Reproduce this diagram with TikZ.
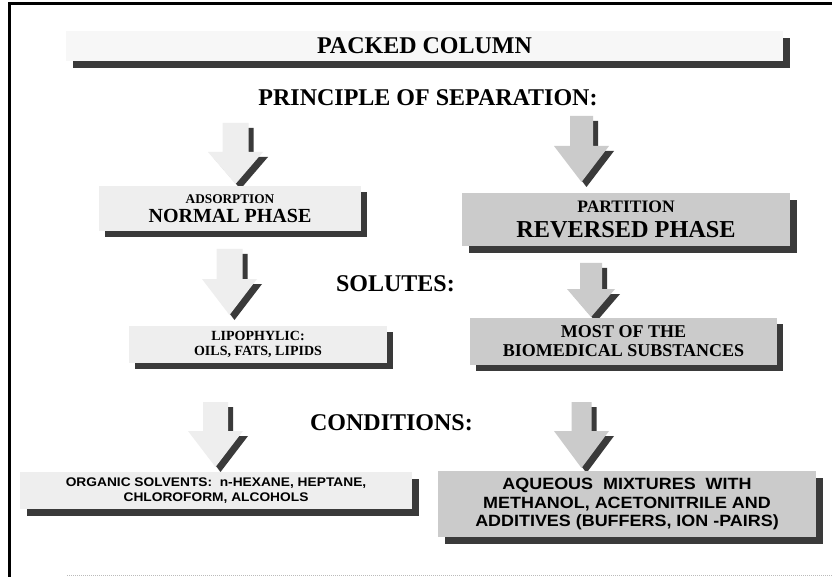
\documentclass[tikz,border=0pt]{standalone}
\usepackage{fontspec}
\setmainfont{Liberation Serif}
\newfontfamily\arialw[FakeStretch=1.1]{Liberation Sans}
\usetikzlibrary{shadows}
\newcommand\myfs[2]{\fontsize{#1}{#2}\selectfont}
\definecolor{lightbox}{HTML}{EEEEEE}
\definecolor{titlebox}{HTML}{F7F7F7}
\definecolor{greybox}{HTML}{CBCBCB}
\definecolor{shadowc}{HTML}{3A3A3A}
\definecolor{dotc}{HTML}{BBBBBB}
% block arrow: #1 cx, #2 top, #3 neck, #4 tip, #5 shaft half width, #6 head half width, #7 fill
\newcommand\blockarrow[7]{%
  \fill[shadowc, shift={(5,5)}] (#1-#5,#2) -- (#1+#5,#2) -- (#1+#5,#3) -- (#1+#6,#3) -- (#1,#4) -- (#1-#6,#3) -- (#1-#5,#3) -- cycle;
  \fill[#7] (#1-#5,#2) -- (#1+#5,#2) -- (#1+#5,#3) -- (#1+#6,#3) -- (#1,#4) -- (#1-#6,#3) -- (#1-#5,#3) -- cycle;
}
\begin{document}
\begin{tikzpicture}[x=1pt,y=-1pt,
  box/.style={rectangle, inner sep=0pt, align=center, font=\bfseries},
  shad/.style={drop shadow={shadow xshift=#1pt, shadow yshift=-#1pt, fill=shadowc, opacity=1}},
  heading/.style={anchor=base, inner sep=0pt, font=\bfseries\myfs{24}{24}}]
\useasboundingbox (0,0) rectangle (832,577);
\fill[white] (0,0) rectangle (832,577);
% frame
\draw[line width=3pt] (9.5,577) -- (9.5,3.7) -- (832,3.7);
\draw[dotc, line width=0.8pt, dash pattern=on 1pt off 1pt] (67,575.5) -- (832,575.5);

% title
\node[box, shad=7, fill=titlebox, minimum width=717pt, minimum height=30pt, font=\bfseries\myfs{24}{24}]
  (title) at (424.5,46) {PACKED COLUMN};
\node[heading] (principle) at (428,106) {PRINCIPLE OF SEPARATION:};
\node[heading] (solutes) at (395.4,291) {SOLUTES:};
\node[heading] (conditions) at (391.5,430) {CONDITIONS:};

% arrows
\blockarrow{235.5}{123}{152}{184}{13}{27.5}{lightbox}
\blockarrow{581.5}{116}{146}{182}{11.5}{27.5}{greybox}
\blockarrow{229.5}{249}{279}{315}{13}{27.5}{lightbox}
\blockarrow{591}{263}{289}{317}{11}{24}{greybox}
\blockarrow{215.5}{402}{431}{467}{12.5}{27.5}{lightbox}
\blockarrow{581.5}{402}{431}{468}{10}{27.5}{greybox}

% left column
\node[box, shad=6, fill=lightbox, minimum width=262pt, minimum height=45pt, font=\bfseries\myfs{13}{19}]
  (normal) at (230,208.5) {{\myfs{13.3}{13}ADSORPTION}\\{\myfs{20}{20}NORMAL PHASE}};
\node[box, shad=6, fill=lightbox, minimum width=258pt, minimum height=37pt, font=\bfseries\myfs{14}{14.6}]
  (lipo) at (258,344.5) {LIPOPHYLIC:\\OILS, FATS, LIPIDS};
\node[box, shad=7, fill=lightbox, minimum width=392pt, minimum height=37pt, font=\arialw\bfseries\myfs{12.5}{15.4}]
  (organic) at (216,490.5) {ORGANIC SOLVENTS:\ \ n-HEXANE, HEPTANE,\\CHLOROFORM, ALCOHOLS};

% right column
\node[box, shad=7, fill=greybox, minimum width=328pt, minimum height=53pt, font=\bfseries\myfs{18}{25}]
  (reversed) at (626,219.5) {{\myfs{17.5}{18}PARTITION}\\{\myfs{24.3}{25}REVERSED PHASE}};
\node[box, shad=6, fill=greybox, minimum width=307pt, minimum height=47pt, font=\bfseries\myfs{18}{19}]
  (most) at (623.5,341.5) {MOST OF THE\\BIOMEDICAL SUBSTANCES};
\node[box, shad=7, fill=greybox, minimum width=378pt, minimum height=66pt, font=\arialw\bfseries\myfs{16.3}{18.6}]
  (aqueous) at (627,504) {AQUEOUS\ \ MIXTURES\ \ WITH\\METHANOL, ACETONITRILE AND\\ADDITIVES (BUFFERS, ION -PAIRS)};
\end{tikzpicture}
\end{document}
